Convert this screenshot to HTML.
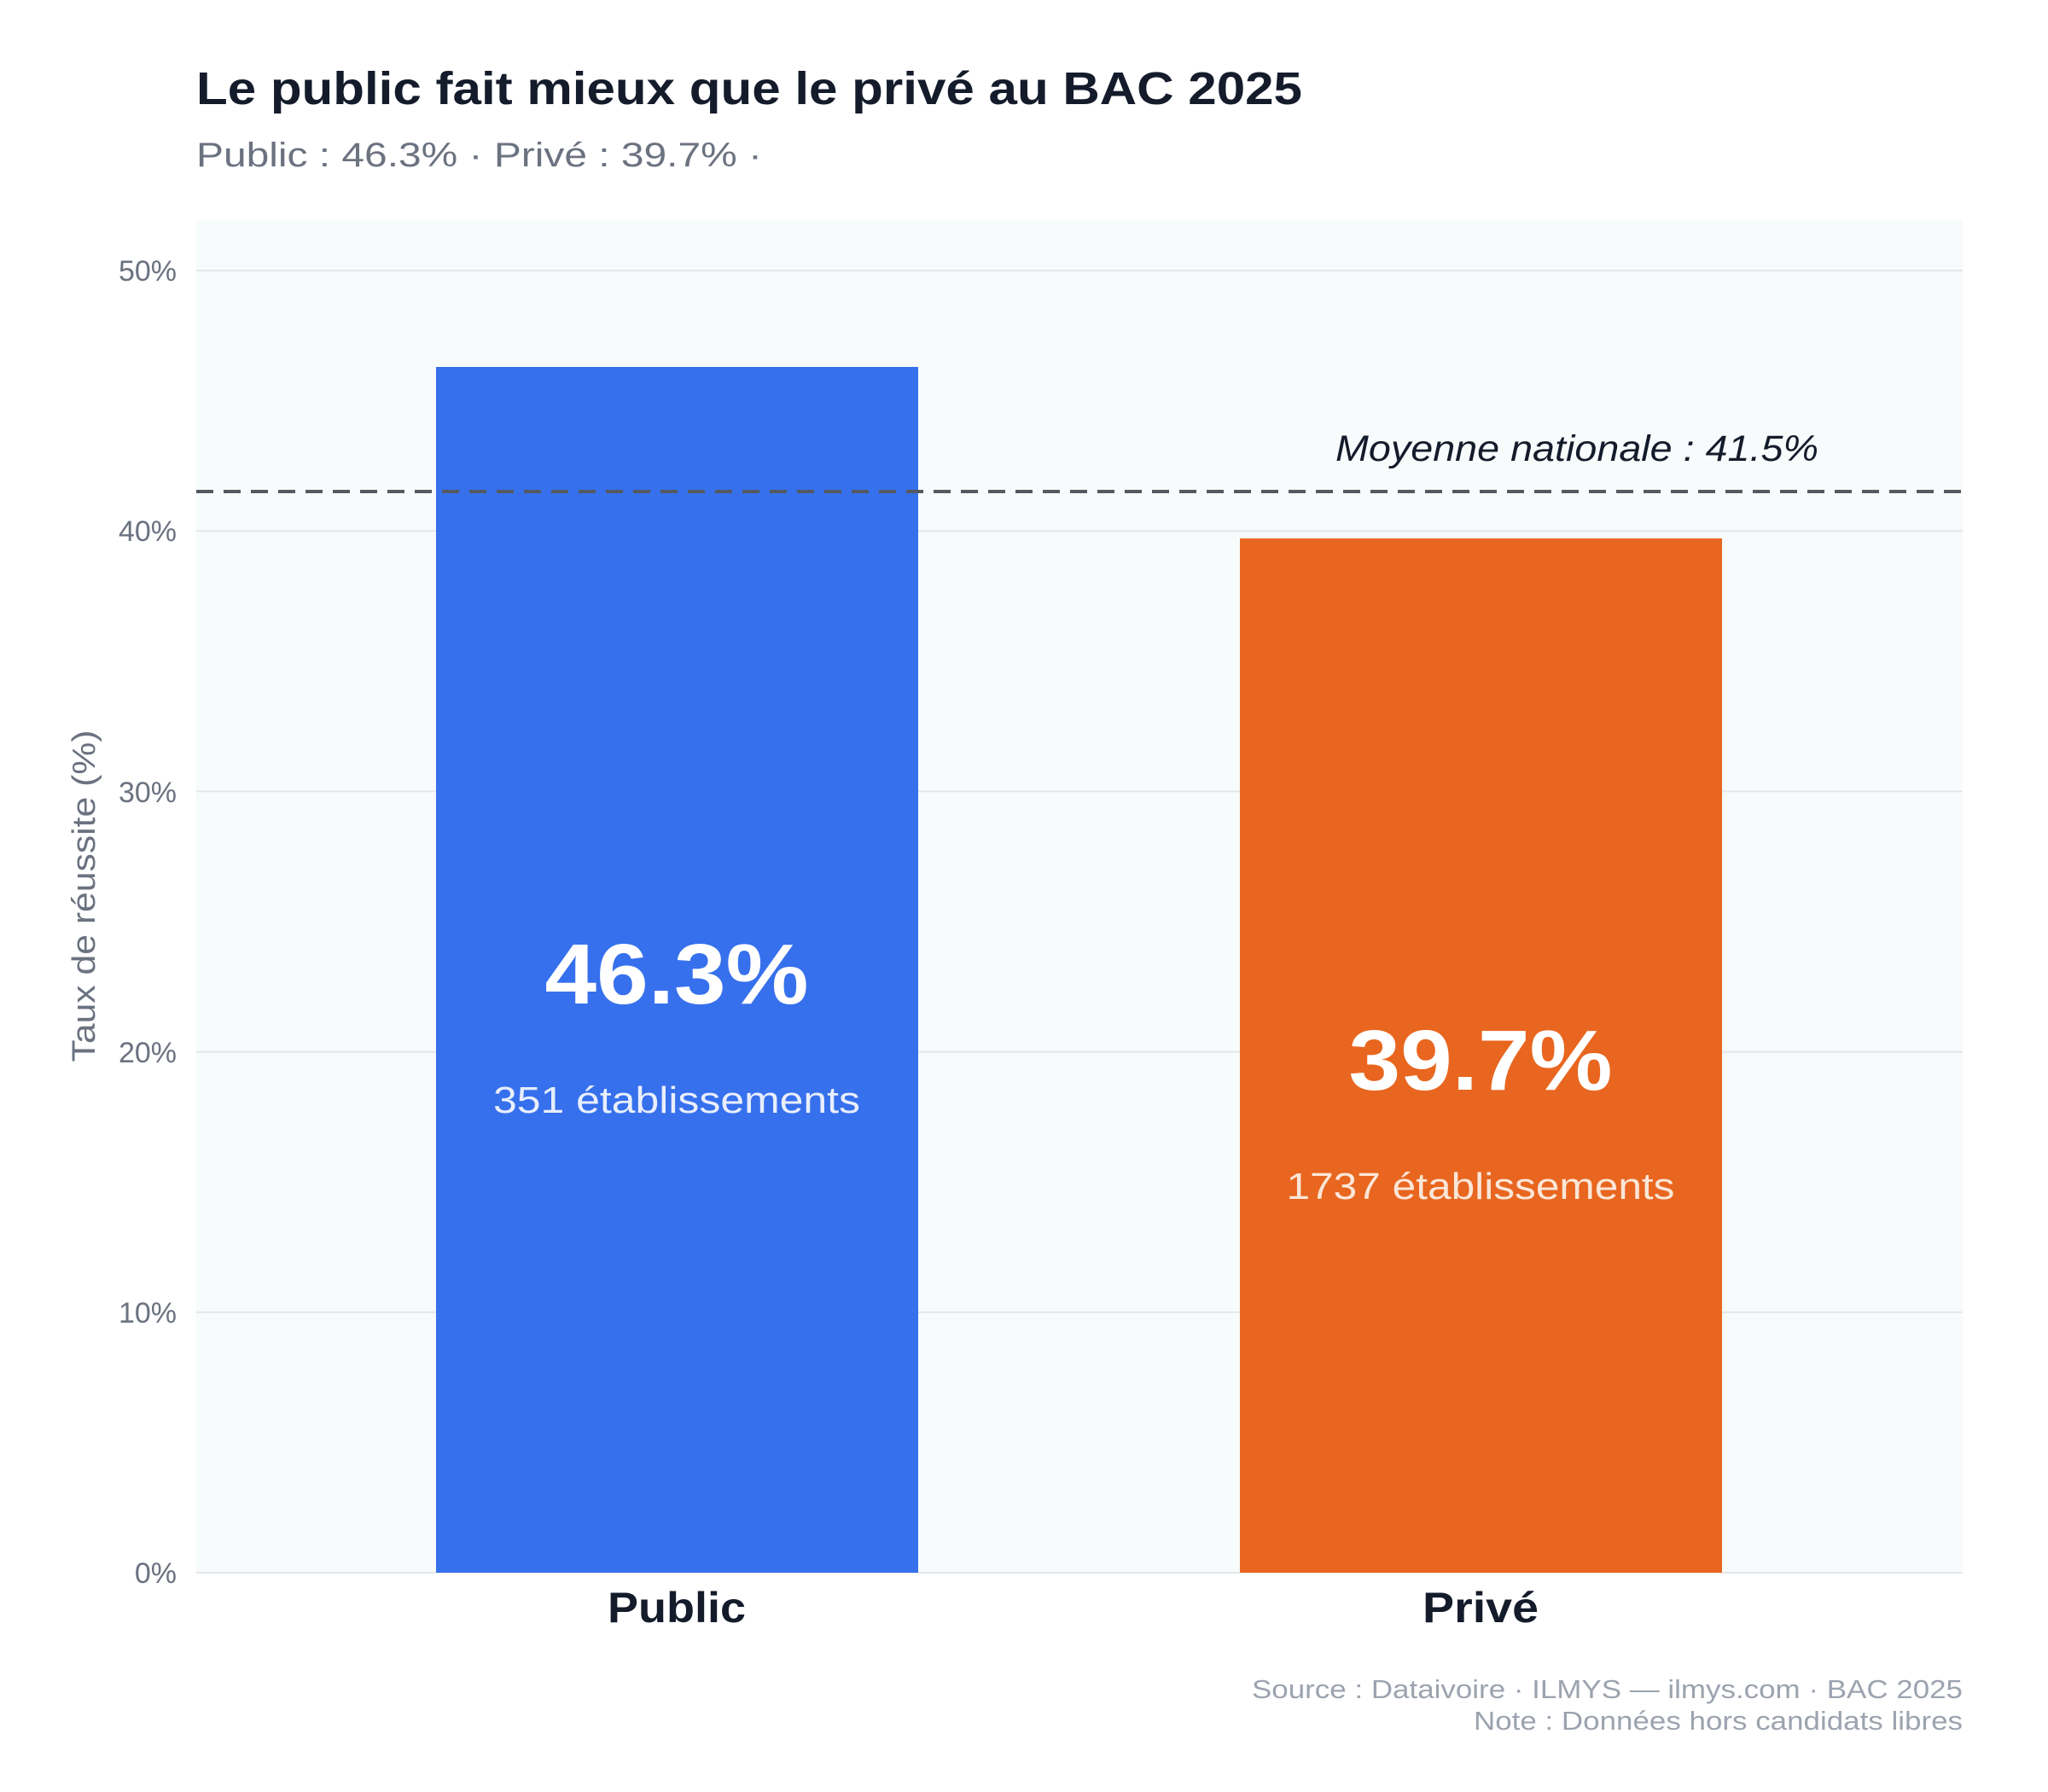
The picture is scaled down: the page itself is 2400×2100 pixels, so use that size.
<!DOCTYPE html>
<html><head><meta charset="utf-8"><style>
html,body{margin:0;padding:0;background:#fff;}
svg{display:block;font-family:"Liberation Sans","DejaVu Sans",sans-serif;}
</style></head><body>
<svg width="2400" height="2100" viewBox="0 0 2400 2100" xmlns="http://www.w3.org/2000/svg">
<rect width="2400" height="2100" fill="#fff"/>
<text x="230" y="122" font-size="54" font-weight="bold" fill="#141b2b" textLength="1296" lengthAdjust="spacingAndGlyphs">Le public fait mieux que le privé au BAC 2025</text>
<text x="230" y="195" font-size="40" fill="#6b7280" textLength="663" lengthAdjust="spacingAndGlyphs">Public : 46.3%  ·  Privé : 39.7%  ·</text>
<rect x="230" y="257" width="2070" height="1586" fill="#f8fbfb"/>
<g stroke="#e3e7ea" stroke-width="2">
<line x1="230" x2="2300" y1="1843" y2="1843"/>
<line x1="230" x2="2300" y1="1537.8" y2="1537.8"/>
<line x1="230" x2="2300" y1="1232.6" y2="1232.6"/>
<line x1="230" x2="2300" y1="927.4" y2="927.4"/>
<line x1="230" x2="2300" y1="622.2" y2="622.2"/>
<line x1="230" x2="2300" y1="317" y2="317"/>
</g>
<g font-size="34" fill="#6b7280" text-anchor="end">
<text x="207" y="1855">0%</text>
<text x="207" y="1550">10%</text>
<text x="207" y="1245">20%</text>
<text x="207" y="940">30%</text>
<text x="207" y="634">40%</text>
<text x="207" y="329">50%</text>
</g>
<text transform="translate(111,1050) rotate(-90)" font-size="38" fill="#6b7280" text-anchor="middle" textLength="389" lengthAdjust="spacingAndGlyphs">Taux de réussite (%)</text>
<rect x="511" y="430" width="565" height="1413" fill="#3670ec"/>
<rect x="1453" y="631" width="565" height="1212" fill="#e8661f"/>
<line x1="230" x2="2300" y1="576" y2="576" stroke="#555a60" stroke-width="4" stroke-dasharray="20,12"/>
<text x="2131" y="540" font-size="43" font-style="italic" fill="#141b2b" text-anchor="end" textLength="566" lengthAdjust="spacingAndGlyphs">Moyenne nationale : 41.5%</text>
<g text-anchor="middle" fill="#fff">
<text x="793" y="1176" font-size="100" font-weight="bold" textLength="309" lengthAdjust="spacingAndGlyphs">46.3%</text>
<text x="793" y="1304" font-size="44" fill="#e8eefc" textLength="430" lengthAdjust="spacingAndGlyphs">351 établissements</text>
<text x="1735" y="1277" font-size="100" font-weight="bold" textLength="309" lengthAdjust="spacingAndGlyphs">39.7%</text>
<text x="1735" y="1405" font-size="44" fill="#fbe6d8" textLength="455" lengthAdjust="spacingAndGlyphs">1737 établissements</text>
</g>
<g text-anchor="middle" font-size="50" font-weight="bold" fill="#141b2b">
<text x="793" y="1901" textLength="162" lengthAdjust="spacingAndGlyphs">Public</text>
<text x="1735" y="1901" textLength="136" lengthAdjust="spacingAndGlyphs">Privé</text>
</g>
<g text-anchor="end" font-size="31" fill="#9ca3af">
<text x="2300" y="1990" textLength="833" lengthAdjust="spacingAndGlyphs">Source : Dataivoire  ·  ILMYS — ilmys.com  ·  BAC 2025</text>
<text x="2300" y="2027" textLength="573" lengthAdjust="spacingAndGlyphs">Note : Données hors candidats libres</text>
</g>
</svg>
</body></html>
